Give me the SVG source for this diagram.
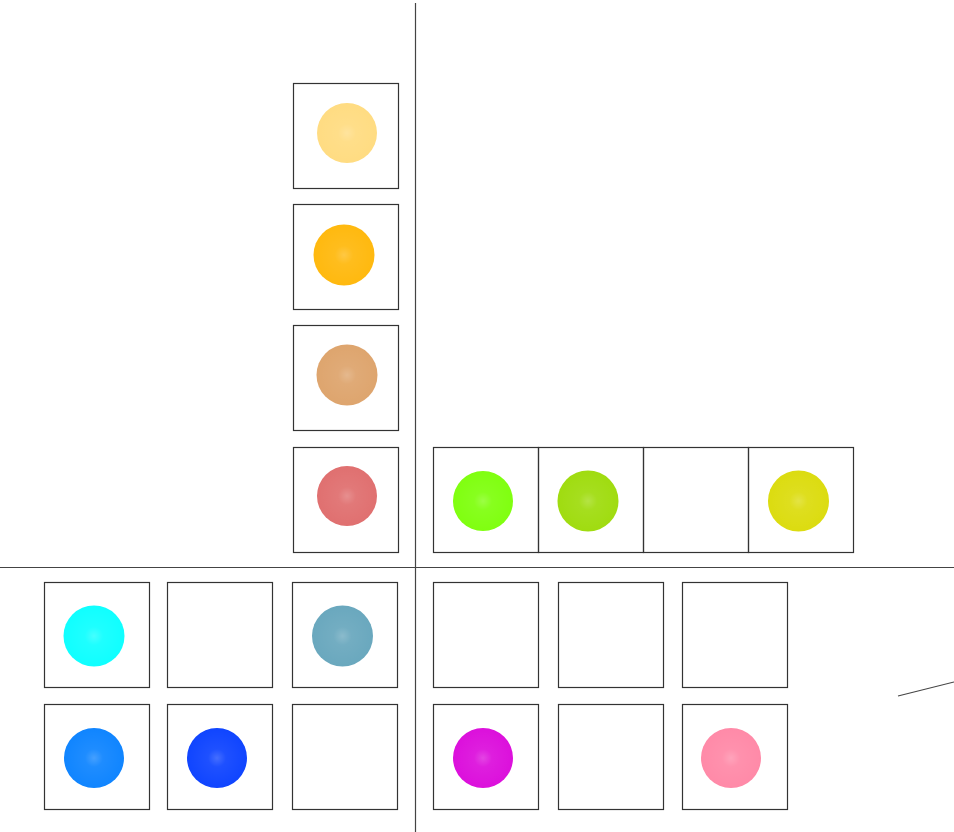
<svg xmlns="http://www.w3.org/2000/svg" width="954" height="832" viewBox="0 0 954 832">
<style>
.box{fill:none;stroke:#333;stroke-width:1.2}
.ax{stroke:#444;stroke-width:1.2;fill:none}
</style>
<defs>
<radialGradient id="sh"><stop offset="0" stop-color="#fff" stop-opacity="0.22"/><stop offset="0.3" stop-color="#fff" stop-opacity="0.06"/><stop offset="1" stop-color="#fff" stop-opacity="0"/></radialGradient>
</defs>
<rect width="954" height="832" fill="#fff"/>
<g id="axes" class="ax">
<line x1="415.5" y1="3" x2="415.5" y2="832"/>
<line x1="0" y1="567.5" x2="954" y2="567.5"/>
<line x1="898" y1="696" x2="954" y2="682"/>
</g>
<g id="n1"><rect class="box" x="293.5" y="83.5" width="105" height="105"/><circle cx="347" cy="133" r="30" fill="#FFDC82"/><circle cx="347" cy="133" r="30" fill="url(#sh)"/></g>
<g id="n2"><rect class="box" x="293.5" y="204.5" width="105" height="105"/><circle cx="344" cy="255" r="30.5" fill="#FFB90F"/><circle cx="344" cy="255" r="30.5" fill="url(#sh)"/></g>
<g id="n3"><rect class="box" x="293.5" y="325.5" width="105" height="105"/><circle cx="347" cy="375" r="30.5" fill="#DEA56E"/><circle cx="347" cy="375" r="30.5" fill="url(#sh)"/></g>
<g id="n4"><rect class="box" x="293.5" y="447.5" width="105" height="105"/><circle cx="347" cy="496" r="30" fill="#E07070"/><circle cx="347" cy="496" r="30" fill="url(#sh)"/></g>
<g id="n5"><rect class="box" x="433.5" y="447.5" width="105" height="105"/><circle cx="483" cy="501" r="30" fill="#80FF10"/><circle cx="483" cy="501" r="30" fill="url(#sh)"/></g>
<g id="n6"><rect class="box" x="538.5" y="447.5" width="105" height="105"/><circle cx="588" cy="501" r="30.5" fill="#A0DC10"/><circle cx="588" cy="501" r="30.5" fill="url(#sh)"/></g>
<g id="n7"><rect class="box" x="643.5" y="447.5" width="105" height="105"/></g>
<g id="n8"><rect class="box" x="748.5" y="447.5" width="105" height="105"/><circle cx="798.5" cy="501" r="30.5" fill="#DCDC10"/><circle cx="798.5" cy="501" r="30.5" fill="url(#sh)"/></g>
<g id="n9"><rect class="box" x="44.5" y="582.5" width="105" height="105"/><circle cx="94" cy="636" r="30.5" fill="#10FFFF"/><circle cx="94" cy="636" r="30.5" fill="url(#sh)"/></g>
<g id="n10"><rect class="box" x="167.5" y="582.5" width="105" height="105"/></g>
<g id="n11"><rect class="box" x="292.5" y="582.5" width="105" height="105"/><circle cx="342.5" cy="636" r="30.5" fill="#6AA8BE"/><circle cx="342.5" cy="636" r="30.5" fill="url(#sh)"/></g>
<g id="n12"><rect class="box" x="433.5" y="582.5" width="105" height="105"/></g>
<g id="n13"><rect class="box" x="558.5" y="582.5" width="105" height="105"/></g>
<g id="n14"><rect class="box" x="682.5" y="582.5" width="105" height="105"/></g>
<g id="n15"><rect class="box" x="44.5" y="704.5" width="105" height="105"/><circle cx="94" cy="758" r="30" fill="#1085FF"/><circle cx="94" cy="758" r="30" fill="url(#sh)"/></g>
<g id="n16"><rect class="box" x="167.5" y="704.5" width="105" height="105"/><circle cx="217" cy="758" r="30" fill="#1045FF"/><circle cx="217" cy="758" r="30" fill="url(#sh)"/></g>
<g id="n17"><rect class="box" x="292.5" y="704.5" width="105" height="105"/></g>
<g id="n18"><rect class="box" x="433.5" y="704.5" width="105" height="105"/><circle cx="483" cy="758" r="30" fill="#DC10DC"/><circle cx="483" cy="758" r="30" fill="url(#sh)"/></g>
<g id="n19"><rect class="box" x="558.5" y="704.5" width="105" height="105"/></g>
<g id="n20"><rect class="box" x="682.5" y="704.5" width="105" height="105"/><circle cx="731" cy="758" r="30" fill="#FF8AA8"/><circle cx="731" cy="758" r="30" fill="url(#sh)"/></g>
</svg>
